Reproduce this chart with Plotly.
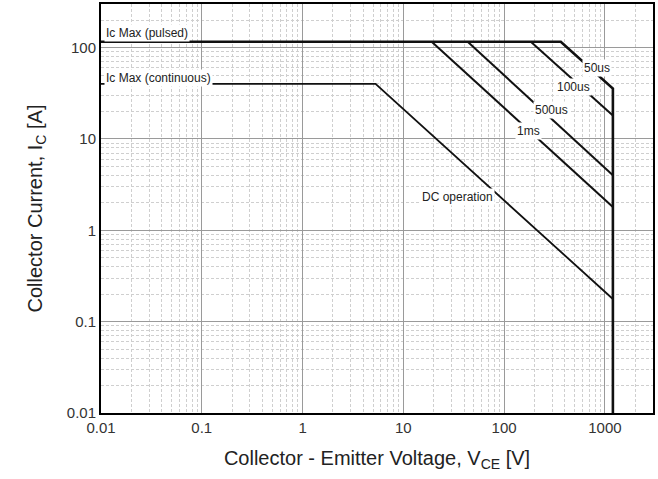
import math
import plotly.graph_objects as go

# ---- data ----
x_tick_vals = [0.01, 0.1, 1, 10, 100, 1000]
x_tick_text = ["0.01", "0.1", "1", "10", "100", "1000"]
y_tick_vals = [0.01, 0.1, 1, 10, 100]
y_tick_text = ["0.01", "0.1", "1", "10", "100"]

v_min = 0.01
v_max = 1200            # V_CES limit
ic_pulsed = 116         # Ic max (pulsed)
ic_cont = 40            # Ic max (continuous)
dc_knee_v = 5.3         # end of continuous plateau
dc_end_i = 0.177        # DC line current at V_CES

pulse_names = ["50us", "100us", "500us", "1ms"]
pulse_start_v = [365, 184, 43.5, 19.1]
pulse_end_i = [35.6, 18.1, 4.0, 1.8]

# label anchor points (voltage, current)
pulse_label_v = [832, 492, 297, 176]
pulse_label_i = [60.4, 36.6, 21.0, 12.1]
dc_label = ("DC operation", 34.6, 2.30)
plateau_labels = [("Ic Max (pulsed)", 0.0108, 146), ("Ic Max (continuous)", 0.0108, 47)]

y_min = 0.01
x_range_max = 3000
y_range_max = 300

FONT = "Liberation Sans, Arial, sans-serif"
INK = "#111111"

fig = go.Figure()

# pulsed envelope: plateau -> 50us line -> vertical V_CES limit
fig.add_trace(go.Scatter(
    x=[v_min, pulse_start_v[0], v_max, v_max],
    y=[ic_pulsed, ic_pulsed, pulse_end_i[0], y_min],
    mode="lines", line=dict(color=INK, width=2.6), hoverinfo="skip", showlegend=False))

# other pulse lines
for name, v0, i1 in zip(pulse_names[1:], pulse_start_v[1:], pulse_end_i[1:]):
    fig.add_trace(go.Scatter(
        x=[v0, v_max], y=[ic_pulsed, i1], mode="lines",
        line=dict(color=INK, width=2), name=name, showlegend=False))

# continuous / DC
fig.add_trace(go.Scatter(
    x=[v_min, dc_knee_v, v_max], y=[ic_cont, ic_cont, dc_end_i], mode="lines",
    line=dict(color=INK, width=1.8), name="DC operation", showlegend=False))

annotations = []
for name, lv, li in zip(pulse_names, pulse_label_v, pulse_label_i):
    annotations.append(dict(x=math.log10(lv), y=math.log10(li), text=name, showarrow=False,
                            font=dict(family=FONT, size=12, color="#222"),
                            bgcolor="white", borderpad=1, xanchor="center", yanchor="middle"))
annotations.append(dict(x=math.log10(dc_label[1]), y=math.log10(dc_label[2]), text=dc_label[0],
                        showarrow=False, font=dict(family=FONT, size=12, color="#222"),
                        bgcolor="white", borderpad=1, xanchor="center", yanchor="middle"))
for text, lv, li in plateau_labels:
    annotations.append(dict(x=math.log10(lv), y=math.log10(li), text=text, showarrow=False,
                            font=dict(family=FONT, size=12, color="#222"),
                            bgcolor="white", borderpad=1, xanchor="left", yanchor="middle"))

minor_vals = [m * 10 ** e for e in range(-2, 4) for m in range(2, 10)]

axis_common = dict(
    type="log", showgrid=True, gridcolor="#9a9a9a", gridwidth=1,
    showline=True, mirror=True, linecolor="black", linewidth=2,
    ticks="", zeroline=False, automargin=False,
    tickfont=dict(family=FONT, size=15, color="#333"),
    minor=dict(tickmode="array", tickvals=minor_vals, showgrid=True,
               gridcolor="#cfcfcf", gridwidth=1, griddash="3px,2px", ticks=""),
)

fig.update_layout(
    width=658, height=479,
    margin=dict(l=101, r=5, t=4, b=66),
    paper_bgcolor="white", plot_bgcolor="white",
    font=dict(family=FONT),
    annotations=annotations,
    xaxis=dict(axis_common, range=[math.log10(v_min), math.log10(x_range_max)],
               tickmode="array", tickvals=x_tick_vals, ticktext=x_tick_text,
               title=dict(text="Collector - Emitter Voltage, V<sub>CE</sub> [V]",
                          font=dict(family=FONT, size=20, color="#222"), standoff=16)),
    yaxis=dict(axis_common, range=[math.log10(y_min), math.log10(y_range_max)],
               tickmode="array", tickvals=y_tick_vals, ticktext=y_tick_text,
               title=dict(text="Collector Current, I<sub>C</sub> [A]",
                          font=dict(family=FONT, size=20, color="#222"), standoff=19)),
)

fig.write_html("out.html", config={"displayModeBar": False},
               post_script="document.body.style.margin='0';")
